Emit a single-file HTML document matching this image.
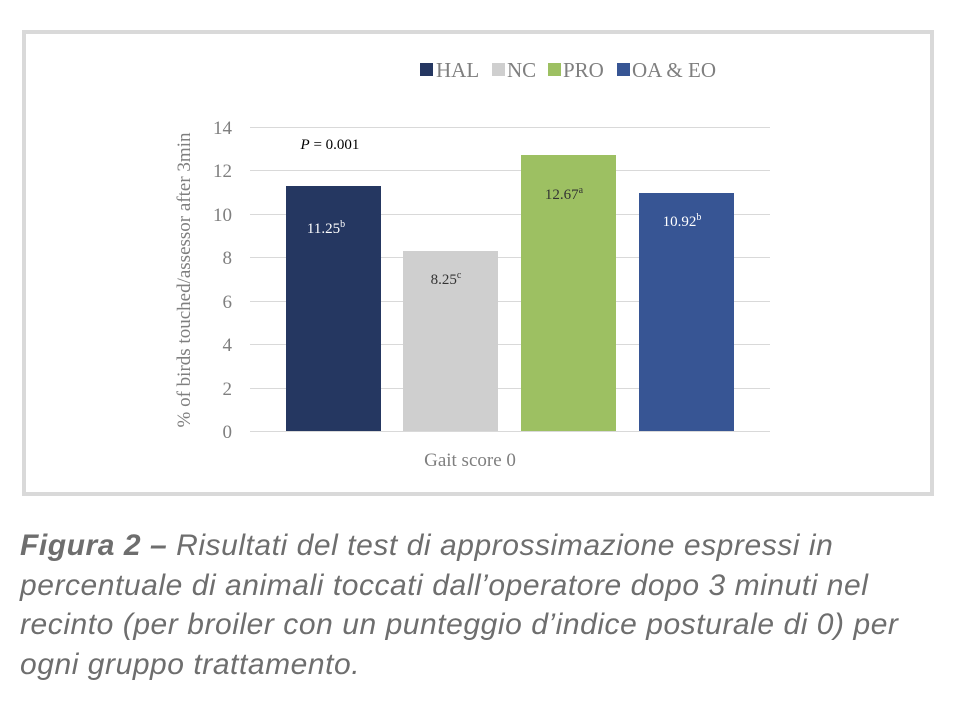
<!DOCTYPE html>
<html><head><style>
body{margin:0;background:#fff;width:966px;height:720px;overflow:hidden}
.cap{position:absolute;left:20px;top:526px;width:940px;white-space:nowrap;font-family:"Liberation Sans",sans-serif;font-style:italic;font-size:30px;letter-spacing:0.55px;line-height:39.5px;color:#6e6e6e}
</style></head><body>
<svg width="966" height="520" style="position:absolute;left:0;top:0" font-family="Liberation Serif,serif">
<rect x="24" y="32" width="908" height="462" fill="#fff" stroke="#d9d9d9" stroke-width="4"/>
<g stroke="#d9d9d9" stroke-width="1">
<line x1="250" x2="770" y1="127.5" y2="127.5"/><line x1="250" x2="770" y1="170.5" y2="170.5"/>
<line x1="250" x2="770" y1="214.5" y2="214.5"/><line x1="250" x2="770" y1="257.5" y2="257.5"/>
<line x1="250" x2="770" y1="301.5" y2="301.5"/><line x1="250" x2="770" y1="344.5" y2="344.5"/>
<line x1="250" x2="770" y1="388.5" y2="388.5"/><line x1="250" x2="770" y1="431.5" y2="431.5"/>
</g>
<g fill="#7f7f7f" font-size="19" text-anchor="end">
<text x="232" y="134">14</text><text x="232" y="177">12</text><text x="232" y="221">10</text>
<text x="232" y="264">8</text><text x="232" y="308">6</text><text x="232" y="351">4</text>
<text x="232" y="395">2</text><text x="232" y="438">0</text>
</g>
<text transform="translate(190,280) rotate(-90)" text-anchor="middle" fill="#7f7f7f" font-size="19">% of birds touched/assessor after 3min</text>
<text x="470" y="466" text-anchor="middle" fill="#7f7f7f" font-size="19">Gait score 0</text>
<rect x="286" y="186" width="95" height="245" fill="#253761"/>
<rect x="403" y="251" width="95" height="180" fill="#cfcfcf"/>
<rect x="521" y="155" width="95" height="276" fill="#9dc062"/>
<rect x="639" y="193" width="95" height="238" fill="#375594"/>
<g font-size="15" text-anchor="middle">
<text x="326" y="233" fill="#fff">11.25<tspan font-size="10" dy="-6">b</tspan></text>
<text x="446" y="284" fill="#333">8.25<tspan font-size="10" dy="-6">c</tspan></text>
<text x="564" y="199" fill="#333">12.67<tspan font-size="10" dy="-6">a</tspan></text>
<text x="682" y="226" fill="#fff">10.92<tspan font-size="10" dy="-6">b</tspan></text>
<text x="330" y="149" fill="#000"><tspan font-style="italic">P</tspan> = 0.001</text>
</g>
<g font-size="21" fill="#7f7f7f">
<rect x="420" y="63" width="13" height="13" fill="#253761"/><text x="436" y="77">HAL</text>
<rect x="492" y="63" width="13" height="13" fill="#cfcfcf"/><text x="507" y="77">NC</text>
<rect x="548" y="63" width="13" height="13" fill="#9dc062"/><text x="563" y="77">PRO</text>
<rect x="617" y="63" width="13" height="13" fill="#375594"/><text x="632" y="77">OA &amp; EO</text>
</g>
</svg>
<div class="cap"><b>Figura 2 –</b> Risultati del test di approssimazione espressi in<br>percentuale di animali toccati dall’operatore dopo 3 minuti nel<br>recinto (per broiler con un punteggio d’indice posturale di 0) per<br>ogni gruppo trattamento.</div>
</body></html>
